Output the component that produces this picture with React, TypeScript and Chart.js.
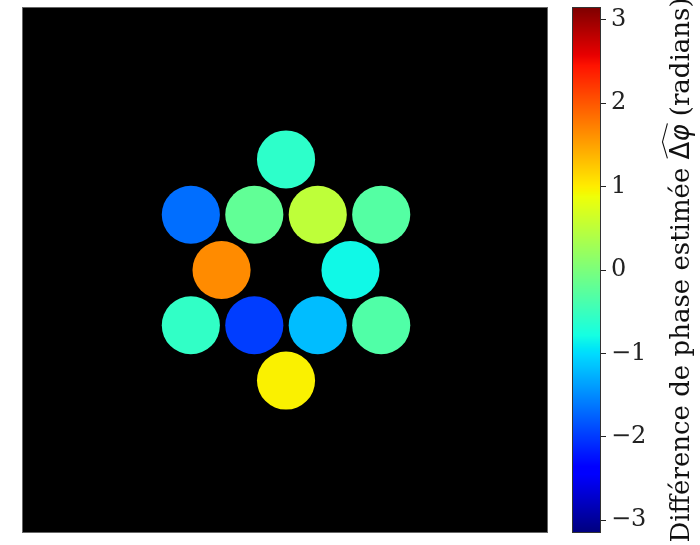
import React, { useEffect, useRef } from "react";
import { Chart, registerables } from "chart.js";

Chart.register(...registerables);

// ---- data ----
const IMAGE_SIZE = 256; // image grid (pixels of the phase map)
const SEGMENT_RADIUS = 14.2; // segment radius, in image pixels
const segX = [128.5, 82, 113, 144, 175, 97, 160, 82, 113, 144, 175, 128.5];
const segY = [74, 101, 101, 101, 101, 128, 128, 155, 155, 155, 155, 182];
const segPhase = [-0.6, -1.68, -0.2, 0.51, -0.3, 1.65, -0.82, -0.57, -1.98, -1.19, -0.33, 0.97];
const cbTicks = [-3, -2, -1, 0, 1, 2, 3];
const PHASE_MIN = -Math.PI;
const PHASE_MAX = Math.PI;
const cbLabelPre = "Différence de phase estimée ";
const cbLabelMath = ["Δ", "φ"];
const cbLabelPost = " (radians)";

// matplotlib "jet"
const JET_R = [[0, 0], [0.35, 0], [0.66, 1], [0.89, 1], [1, 0.5]];
const JET_G = [[0, 0], [0.125, 0], [0.375, 1], [0.64, 1], [0.91, 0], [1, 0]];
const JET_B = [[0, 0.5], [0.11, 1], [0.34, 1], [0.65, 0], [1, 0]];
function interp(seg: number[][], t: number) {
  for (let i = 1; i < seg.length; i++) {
    if (t <= seg[i][0]) {
      const [x0, y0] = seg[i - 1];
      const [x1, y1] = seg[i];
      return y0 + ((t - x0) / (x1 - x0)) * (y1 - y0);
    }
  }
  return seg[seg.length - 1][1];
}
function jet(v: number) {
  let t = (v - PHASE_MIN) / (PHASE_MAX - PHASE_MIN);
  t = Math.max(0, Math.min(1, t));
  const r = Math.round(255 * interp(JET_R, t));
  const g = Math.round(255 * interp(JET_G, t));
  const b = Math.round(255 * interp(JET_B, t));
  return `rgb(${r},${g},${b})`;
}

const SERIF = "'DejaVu Serif', serif";

const imagePlugin = {
  id: "imageBg",
  beforeDatasetsDraw(chart: any) {
    const { ctx, chartArea: a } = chart;
    ctx.save();
    ctx.fillStyle = "#000";
    ctx.fillRect(a.left, a.top, a.right - a.left, a.bottom - a.top);
    ctx.restore();
  },
  afterDraw(chart: any) {
    const { ctx, chartArea: a } = chart;
    ctx.save();
    ctx.strokeStyle = "#666";
    ctx.lineWidth = 1;
    ctx.strokeRect(a.left - 0.5, a.top - 0.5, a.right - a.left + 1, a.bottom - a.top + 1);
    ctx.restore();
  },
};

const colorbarPlugin = {
  id: "colorbar",
  beforeDatasetsDraw(chart: any) {
    const { ctx, chartArea: a } = chart;
    const ys = chart.scales.y;
    ctx.save();
    for (let py = Math.floor(a.top); py < Math.ceil(a.bottom); py++) {
      const v = ys.getValueForPixel(py + 0.5);
      ctx.fillStyle = jet(v);
      ctx.fillRect(a.left, py, a.right - a.left, 1);
    }
    ctx.strokeStyle = "#333";
    ctx.lineWidth = 1;
    ctx.strokeRect(a.left - 0.5, a.top - 0.5, a.right - a.left + 1, a.bottom - a.top + 1);
    ctx.restore();
  },
  afterDraw(chart: any) {
    const { ctx, chartArea: a } = chart;
    const fs = 26;
    const fPre = `${fs}px ${SERIF}`;
    const fDelta = `${fs}px 'DejaVu Sans', sans-serif`;
    const fPhi = `italic ${fs}px 'DejaVu Sans', sans-serif`;
    ctx.save();
    ctx.font = fPre;
    const wPre = ctx.measureText(cbLabelPre).width;
    const wPost = ctx.measureText(cbLabelPost).width;
    ctx.font = fDelta;
    const wD = ctx.measureText(cbLabelMath[0]).width;
    ctx.font = fPhi;
    const wP = ctx.measureText(cbLabelMath[1]).width;
    const total = wPre + wD + wP + wPost;
    const cy = (a.top + a.bottom) / 2;
    ctx.translate(129, cy);
    ctx.rotate(-Math.PI / 2);
    ctx.fillStyle = "#111";
    ctx.textBaseline = "alphabetic";
    ctx.textAlign = "left";
    let x = -total / 2;
    ctx.font = fPre;
    ctx.fillText(cbLabelPre, x, 0);
    x += wPre;
    const mathStart = x;
    ctx.font = fDelta;
    ctx.fillText(cbLabelMath[0], x, 0);
    x += wD;
    ctx.font = fPhi;
    ctx.fillText(cbLabelMath[1], x, 0);
    x += wP;
    const mathEnd = x;
    ctx.font = fPre;
    ctx.fillText(cbLabelPost, x, 0);
    // wide hat over the math part
    ctx.strokeStyle = "#111";
    ctx.lineWidth = 1.1;
    ctx.beginPath();
    ctx.moveTo(mathStart + 1, -fs * 0.83);
    ctx.lineTo((mathStart + mathEnd) / 2, -fs * 1.02);
    ctx.lineTo(mathEnd + 1, -fs * 0.83);
    ctx.stroke();
    ctx.restore();
  },
};

function fmtMinus(v: number) {
  return v < 0 ? "\u2212" + Math.abs(v) : String(v);
}

export default function App() {
  const imgRef = useRef<HTMLCanvasElement>(null);
  const cbRef = useRef<HTMLCanvasElement>(null);

  useEffect(() => {
    document.body.style.margin = "0";
    const imgChart = new Chart(imgRef.current!, {
      type: "scatter",
      data: {
        datasets: [
          {
            data: segX.map((x, i) => ({ x, y: segY[i] })),
            pointBackgroundColor: segPhase.map((p) => jet(p)),
            pointBorderWidth: 0,
            pointBorderColor: "rgba(0,0,0,0)",
            showLine: false,
            pointRadius: (ctx: any) => {
              const s = ctx.chart.scales.x;
              return Math.abs(s.getPixelForValue(SEGMENT_RADIUS) - s.getPixelForValue(0));
            },
          } as any,
        ],
      },
      options: {
        animation: false,
        responsive: false,
        events: [],
        layout: { autoPadding: false, padding: { left: 23, top: 8, right: 13, bottom: 13 } },
        plugins: { legend: { display: false }, tooltip: { enabled: false } },
        scales: {
          x: { type: "linear", min: 0, max: IMAGE_SIZE, display: false },
          y: { type: "linear", min: 0, max: IMAGE_SIZE, reverse: true, display: false },
        },
      },
      plugins: [imagePlugin],
    });

    const cbChart = new Chart(cbRef.current!, {
      type: "scatter",
      data: { datasets: [{ data: [] }] },
      options: {
        animation: false,
        responsive: false,
        events: [],
        layout: { autoPadding: false, padding: { left: 13, top: 8, right: 0, bottom: 13 } },
        plugins: { legend: { display: false }, tooltip: { enabled: false } },
        scales: {
          x: { type: "linear", display: false, min: 0, max: 1 },
          y: {
            type: "linear",
            position: "right",
            min: PHASE_MIN,
            max: PHASE_MAX,
            afterBuildTicks: (scale: any) => {
              scale.ticks = cbTicks.map((v) => ({ value: v }));
            },
            afterFit: (scale: any) => {
              scale.width = 100;
              scale.paddingTop = 0;
              scale.paddingBottom = 0;
            },
            grid: {
              drawOnChartArea: false,
              drawTicks: true,
              tickLength: 6,
              tickWidth: 1,
              tickColor: "#222",
            },
            border: { display: false },
            ticks: {
              padding: 5,
              color: "#222",
              font: { family: SERIF, size: 24 },
              callback: (v: any) => fmtMinus(Number(v)),
            },
          },
        },
      },
      plugins: [colorbarPlugin],
    });

    return () => {
      imgChart.destroy();
      cbChart.destroy();
    };
  }, []);

  return (
    <div style={{ position: "relative", width: 700, height: 545, background: "#fff", overflow: "hidden" }}>
      <canvas ref={imgRef} width={560} height={545} style={{ position: "absolute", left: 0, top: 0 }} />
      <canvas ref={cbRef} width={140} height={545} style={{ position: "absolute", left: 560, top: 0 }} />
    </div>
  );
}
